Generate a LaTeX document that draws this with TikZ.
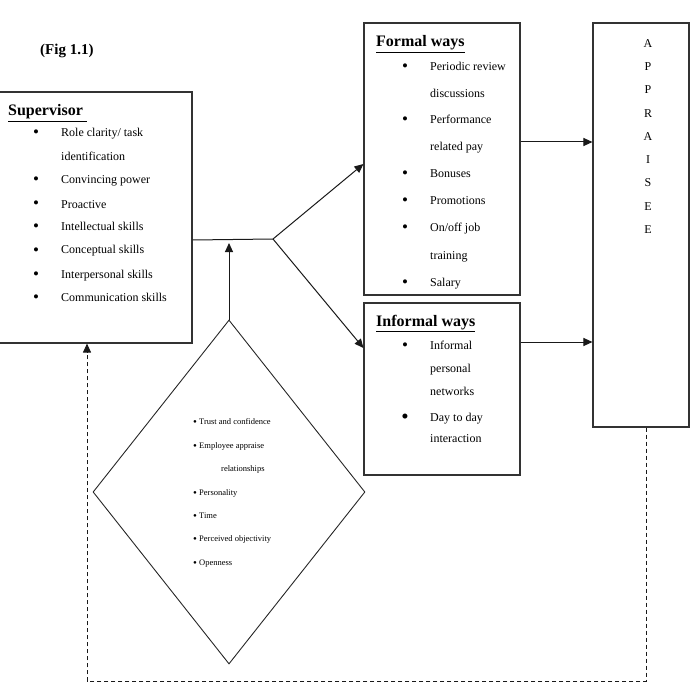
\documentclass[tikz,border=0pt]{standalone}
\usepackage{fontspec}
\setmainfont{Liberation Serif}
\usetikzlibrary{arrows.meta,shapes.geometric}

\tikzset{
  box/.style={draw=black!80, line width=1.1pt, rectangle, inner sep=0pt},
  conn/.style={draw=black!90, line width=1pt},
  tip/.style={-{Triangle[length=9pt,width=8pt]}},
  body/.style={anchor=base west, inner sep=0pt, font=\fontsize{12}{14}\selectfont},
  small/.style={anchor=base west, inner sep=0pt, font=\fontsize{8.5}{10}\selectfont},
  title/.style={anchor=base west, inner sep=0pt, font=\fontsize{16}{18}\selectfont\bfseries},
  dot/.style={anchor=base, inner sep=0pt, font=\fontsize{17}{18}\selectfont},
  smalldot/.style={anchor=base, inner sep=0pt, font=\fontsize{11}{12}\selectfont},
}

\begin{document}
\begin{tikzpicture}[x=1pt,y=-1pt]
\useasboundingbox (0,0) rectangle (696,695);

% caption
\node[anchor=base west, inner sep=0pt, font=\fontsize{15}{17}\selectfont\bfseries] (fig) at (40,55) {(Fig 1.1)};

% boxes
\node[box, minimum width=197pt, minimum height=251pt] (sup) at (93.5,217.5) {};
\node[box, minimum width=156pt, minimum height=272pt] (formal) at (442,159) {};
\node[box, minimum width=156pt, minimum height=172pt] (informal) at (442,389) {};
\node[box, minimum width=96pt, minimum height=404pt] (appr) at (641,225) {};
\node[draw=black!85, line width=0.9pt, diamond, inner sep=0pt,
      minimum width=272pt, minimum height=344pt] (dia) at (229,492) {};

% supervisor contents
\node[title] (supt) at (8,116) {\underline{Supervisor\ }};
\foreach \n/\yy/\t in {s1/137/{Role clarity/ task}, s3/184/{Convincing power},
    s4/208/{Proactive}, s5/231/{Intellectual skills}, s6/254/{Conceptual skills},
    s7/278/{Interpersonal skills}, s8/301/{Communication skills}} {
  \node[dot] (\n b) at (36,\yy+1) {\textbullet};
  \node[body] (\n) at (61,\yy) {\t};
}
\node[body] (s2) at (61,161) {identification};

% formal ways contents
\node[title] (formt) at (376,47) {\underline{Formal ways}};
\foreach \n/\yy/\t in {f1/71/{Periodic review}, f3/124/{Performance},
    f5/178/{Bonuses}, f6/205/{Promotions}, f7/232/{On/off job}, f9/286/{Salary}} {
  \node[dot] (\n b) at (405,\yy+1) {\textbullet};
  \node[body] (\n) at (430,\yy) {\t};
}
\node[body] (f2) at (430,98) {discussions};
\node[body] (f4) at (430,151) {related pay};
\node[body] (f8) at (430,259) {training};

% informal ways contents
\node[title] (inft) at (376,326) {\underline{Informal ways}};
\node[dot] (i1b) at (405,350) {\textbullet};
\node[body] (i1) at (430,349) {Informal};
\node[body] (i2) at (430,372) {personal};
\node[body] (i3) at (430,395) {networks};
\node[dot, font=\fontsize{21}{22}\selectfont] (i4b) at (405,423) {\textbullet};
\node[body] (i4) at (430,421) {Day to day};
\node[body] (i5) at (430,442) {interaction};

% appraisee lettering
\foreach \l [count=\k] in {A,P,P,R,A,I,S,E,E} {
  \node[anchor=base, inner sep=0pt, font=\fontsize{12}{14}\selectfont] (a\k) at (648,{47.5+23.25*(\k-1)}) {\l};
}

% diamond contents
\foreach \n/\yy/\t in {d1/424/{Trust and confidence}, d2/448/{Employee appraise},
    d4/495/{Personality}, d5/518/{Time}, d6/541/{Perceived objectivity}, d7/565/{Openness}} {
  \node[smalldot] (\n b) at (195,\yy+1) {\textbullet};
  \node[small] (\n) at (199,\yy) {\t};
}
\node[small] (d3) at (221,471) {relationships};

% connectors
\coordinate (j) at (273,239);
\draw[conn] (sup.east |- 0,240) -- (j);
\draw[conn, tip] (j) -- ([yshift=-5pt]formal.west);
\draw[conn, tip] (j) -- ([yshift=41pt]informal.west);
\draw[conn, tip, shorten >=3pt] (dia.north) -- (dia.north |- 0,240);
\draw[conn, tip] ([yshift=17pt]formal.east) -- ([yshift=17pt]formal.east -| appr.west);
\draw[conn, tip] ([yshift=47pt]informal.east) -- ([yshift=47pt]informal.east -| appr.west);

% feedback loop
\coordinate (fb) at (87,681);
\draw[conn, dash pattern=on 4pt off 3pt, tip] ([xshift=5pt]appr.south) |- (fb) -- (sup.south -| fb);
\end{tikzpicture}
\end{document}
